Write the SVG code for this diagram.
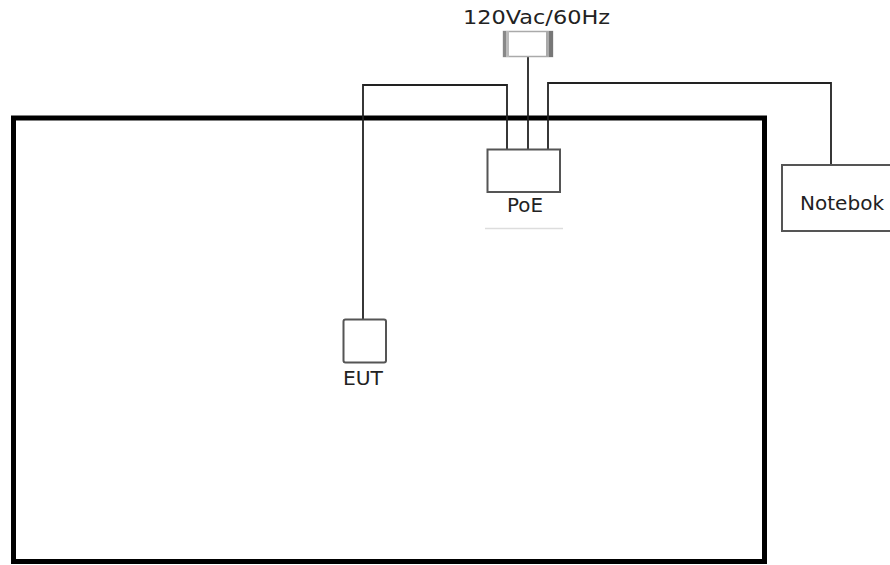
<svg xmlns="http://www.w3.org/2000/svg" width="890" height="565" viewBox="0 0 890 565">
<style>
.lbl{font-family:"DejaVu Sans","Liberation Sans",sans-serif;font-size:20px;fill:#222}
.box{fill:#fff;stroke:#555;stroke-width:2}
.wire{fill:none;stroke:#222;stroke-width:1.8}
</style>
<rect width="890" height="565" fill="#fff"/>
<g id="room">
<rect x="13.5" y="118" width="751" height="443.5" fill="none" stroke="#000" stroke-width="5"/>
</g>
<g id="connectors">
<polyline class="wire" points="363,319 363,85 507,85 507,149"/>
<line class="wire" x1="528" y1="57" x2="528" y2="149"/>
<polyline class="wire" points="548,149 548,83 831,83 831,165"/>
</g>
<g id="power">
<rect x="503.5" y="31.5" width="49" height="25" fill="#fff" stroke="#aaa" stroke-width="1.5"/>
<rect x="503" y="31" width="3" height="26" fill="#888"/>
<rect x="506" y="31" width="3" height="26" fill="#bbb"/>
<rect x="546" y="31" width="3" height="26" fill="#aaa"/>
<rect x="549" y="31" width="4" height="26" fill="#777"/>
<text class="lbl" x="463" y="24" textLength="147" lengthAdjust="spacingAndGlyphs">120Vac/60Hz</text>
</g>
<g id="poe">
<rect class="box" x="487.5" y="149.5" width="72.5" height="42.5" stroke-width="1.5"/>
<text class="lbl" x="507" y="212" textLength="36" lengthAdjust="spacingAndGlyphs">PoE</text>
<line x1="485" y1="228.5" x2="563" y2="228.5" stroke="#ddd" stroke-width="1.5"/>
</g>
<g id="eut">
<rect class="box" x="343.5" y="319.5" width="42.5" height="43" rx="2"/>
<text class="lbl" x="343" y="385" textLength="40" lengthAdjust="spacingAndGlyphs">EUT</text>
</g>
<g id="notebook">
<rect class="box" x="782" y="165" width="120" height="66"/>
<text class="lbl" x="800" y="210" textLength="84" lengthAdjust="spacingAndGlyphs">Notebok</text>
</g>
</svg>
